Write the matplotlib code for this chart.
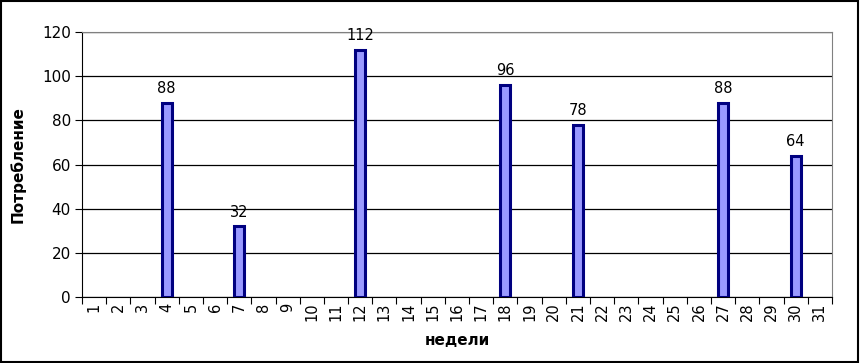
import numpy as np
import matplotlib.pyplot as plt
from matplotlib.patches import Rectangle

weeks = list(range(1, 32))
used_weeks = [4, 7, 12, 18, 21, 27, 30]
used_vals = [88, 32, 112, 96, 78, 88, 64]

vals = [0] * len(weeks)
for w, v in zip(used_weeks, used_vals):
    vals[w - 1] = v

plt.rcParams['font.family'] = ['DejaVu Sans']

fig = plt.figure(figsize=(8.6, 3.63), dpi=100)
ax = fig.add_axes([0.0953, 0.1818, 0.8721, 0.7300])

x = np.arange(len(weeks))
heights = np.array(vals)
mask = heights > 0
ax.bar(x[mask], heights[mask], width=0.42, color='#9999ff',
       edgecolor='#000080', linewidth=2.2, zorder=3)
for xi, v in zip(x[mask], heights[mask]):
    ax.text(xi, v + 3, str(v), ha='center', va='bottom', fontsize=10.5, zorder=4)

ax.set_xlim(-0.5, len(weeks) - 0.5)
ax.set_ylim(0, 120)
ax.set_yticks(range(0, 121, 20))
ax.yaxis.grid(True, color='black', linewidth=0.9, zorder=1)
ax.set_axisbelow(True)

ax.set_xticks(x)
ax.set_xticklabels([str(w) for w in weeks], rotation=90, fontsize=10.5)
ax.tick_params(axis='x', length=0, pad=4)
ax.set_xticks(np.arange(-0.5, len(weeks)), minor=True)
ax.tick_params(axis='x', which='minor', length=5, width=0.8, direction='out')
ax.tick_params(axis='y', length=5, width=0.8, labelsize=11, pad=3)

for s in ['top', 'right']:
    ax.spines[s].set_color('#808080')
    ax.spines[s].set_linewidth(0.8)
ax.spines['left'].set_linewidth(0.8)
ax.spines['bottom'].set_linewidth(0.8)

ax.set_xlabel('недели', fontsize=11, fontweight='bold', labelpad=1)
ax.xaxis.set_label_coords(0.5, -0.135)
ax.set_ylabel('Потребление', fontsize=11, fontweight='bold', labelpad=12)

fig.patches.append(Rectangle((0.001, 0.002), 0.997, 0.995, transform=fig.transFigure,
                             fill=False, edgecolor='black', linewidth=1.5))

fig.savefig('out.png', dpi=100)
